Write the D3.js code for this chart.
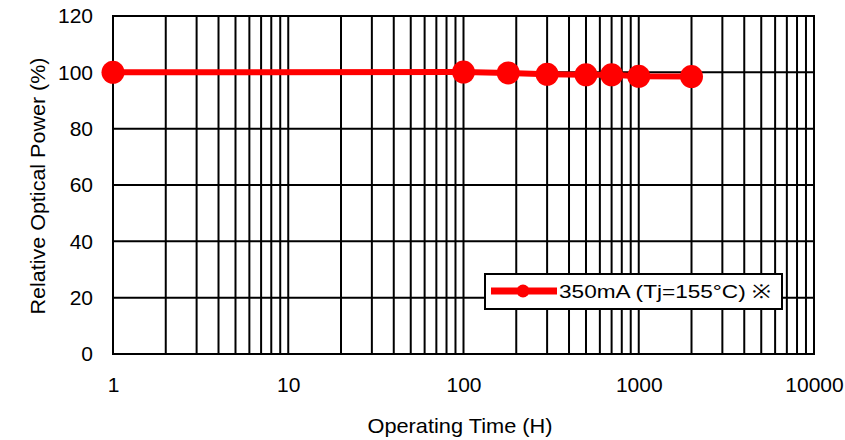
<!DOCTYPE html>
<html>
<head>
<meta charset="utf-8">
<script src="https://cdn.jsdelivr.net/npm/d3@7"></script>
<style>
  body { margin: 0; background: #fff; }
  svg { display: block; }
  text { font-family: "Liberation Sans", Arial, sans-serif; fill: #000; }
</style>
</head>
<body>
<div id="chart"></div>
<script>
// data
var hours = [1, 100, 180, 300, 500, 700, 1000, 2000];
var power = [100, 100.1, 99.8, 99.3, 99.1, 99.1, 98.6, 98.5];
var xTicks = [1, 10, 100, 1000, 10000];
var yTicks = [0, 20, 40, 60, 80, 100, 120];
var seriesName = "350mA (Tj=155°C) ※";

var w = 845, h = 440;
var pLeft = 113, pRight = 814, pTop = 16, pBottom = 354;

var svg = d3.select("#chart").append("svg")
    .attr("width", w)
    .attr("height", h);

var x = d3.scaleLog().domain([1, 10000]).range([pLeft, pRight]);
var y = d3.scaleLinear().domain([0, 120]).range([pBottom, pTop]);

// minor + major vertical grid lines
var vLines = [];
for (var d = 1; d < 10000; d *= 10) {
    for (var k = 2; k <= 10; k++) vLines.push(d * k);
}
svg.selectAll(".vgrid")
    .data(vLines)
    .enter()
    .append("line")
    .attr("class", "vgrid")
    .attr("x1", function(d) { return x(d); })
    .attr("x2", function(d) { return x(d); })
    .attr("y1", pTop)
    .attr("y2", pBottom)
    .style("stroke", "#000")
    .style("stroke-width", 2);

svg.selectAll(".hgrid")
    .data(yTicks)
    .enter()
    .append("line")
    .attr("class", "hgrid")
    .attr("x1", pLeft)
    .attr("x2", pRight)
    .attr("y1", function(d) { return y(d); })
    .attr("y2", function(d) { return y(d); })
    .style("stroke", "#000")
    .style("stroke-width", 2);

svg.append("rect")
    .attr("x", pLeft)
    .attr("y", pTop)
    .attr("width", pRight - pLeft)
    .attr("height", pBottom - pTop)
    .style("fill", "none")
    .style("stroke", "#000")
    .style("stroke-width", 2);

// axes (labels only, lines are the grid)
var xAxis = svg.append("g")
    .attr("transform", "translate(0," + (pBottom + 8) + ")")
    .call(d3.axisBottom(x).tickValues(xTicks).tickFormat(d3.format("d")).tickSize(0).tickPadding(15));
xAxis.select(".domain").remove();
xAxis.selectAll("text").style("font-size", "21px").attr("font-family", null);

var yAxis = svg.append("g")
    .attr("transform", "translate(" + (pLeft - 16) + ",0)")
    .call(d3.axisLeft(y).tickValues(yTicks).tickSize(0).tickPadding(4));
yAxis.select(".domain").remove();
yAxis.selectAll("text").style("font-size", "21px").attr("font-family", null);

svg.append("text")
    .attr("x", 460)
    .attr("y", 433)
    .attr("text-anchor", "middle")
    .attr("textLength", 185)
    .attr("lengthAdjust", "spacingAndGlyphs")
    .style("font-size", "21px")
    .text("Operating Time (H)");

svg.append("text")
    .attr("transform", "translate(45,186) rotate(-90)")
    .attr("text-anchor", "middle")
    .attr("textLength", 257)
    .attr("lengthAdjust", "spacingAndGlyphs")
    .style("font-size", "21px")
    .text("Relative Optical Power (%)");

// series
var pts = hours.map(function(d, i) { return {t: d, p: power[i]}; });
var line = d3.line()
    .x(function(d) { return x(d.t); })
    .y(function(d) { return y(d.p); });

svg.append("path")
    .datum(pts)
    .attr("d", line)
    .style("fill", "none")
    .style("stroke", "#ff0000")
    .style("stroke-width", 6);

svg.selectAll(".pt")
    .data(pts)
    .enter()
    .append("circle")
    .attr("class", "pt")
    .attr("cx", function(d) { return x(d.t); })
    .attr("cy", function(d) { return y(d.p); })
    .attr("r", 11.5)
    .style("fill", "#ff0000");

// legend
var lg = svg.append("g").attr("transform", "translate(485,274)");
lg.append("rect")
    .attr("width", 297)
    .attr("height", 35)
    .style("fill", "#fff")
    .style("stroke", "#000")
    .style("stroke-width", 2);
lg.append("line")
    .attr("x1", 6).attr("x2", 72)
    .attr("y1", 17).attr("y2", 17)
    .style("stroke", "#ff0000")
    .style("stroke-width", 7);
lg.append("circle")
    .attr("cx", 38).attr("cy", 17).attr("r", 6.5)
    .style("fill", "#ff0000");
lg.append("text")
    .attr("x", 74)
    .attr("y", 24)
    .attr("textLength", 212)
    .attr("lengthAdjust", "spacingAndGlyphs")
    .style("font-size", "19px")
    .text(seriesName);
</script>
</body>
</html>
